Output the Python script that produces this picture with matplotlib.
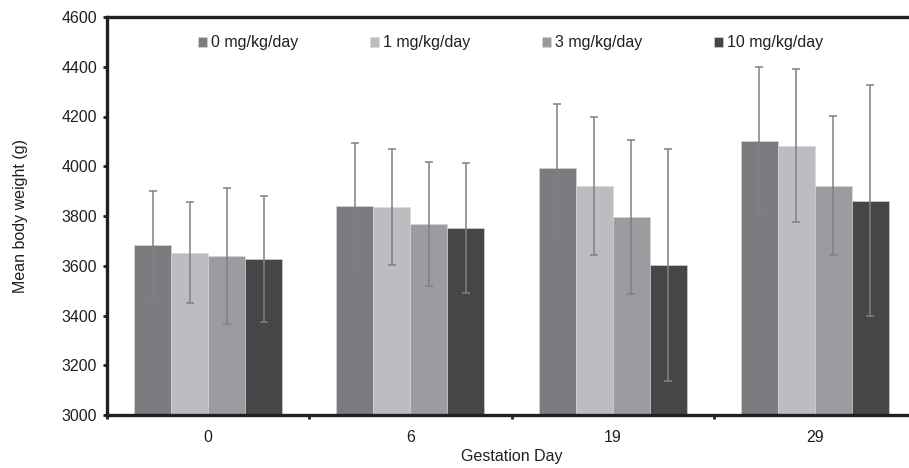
import numpy as np
import matplotlib.pyplot as plt

plt.rcParams['font.family'] = ['Liberation Sans', 'DejaVu Sans']

days = ['0', '6', '19', '29']
doses = ['0 mg/kg/day', '1 mg/kg/day', '3 mg/kg/day', '10 mg/kg/day']
colors = ['#7b7c80', '#bcbdc1', '#9b9c9f', '#454648']

# mean body weight per dose group (rows) and gestation day (columns)
means = [
    [3685, 3839, 3991, 4102],
    [3653, 3836, 3921, 4083],
    [3639, 3768, 3797, 3922],
    [3628, 3752, 3604, 3862],
]
sds = [
    [216, 255, 261, 296],
    [203, 232, 278, 309],
    [274, 250, 309, 279],
    [254, 261, 467, 464],
]

ink = '#231f20'
fs = 11.5

fig = plt.figure(figsize=(9.09, 4.68), dpi=100)
ax = fig.add_axes([107 / 909, 53 / 468, 809 / 909, 398 / 468])

x = np.arange(len(days))
w = 0.183
for i in range(len(doses)):
    pos = x + (i - 1.5) * w
    ax.bar(pos, np.array(means[i]) - 3000, w, bottom=3000, color=colors[i],
           edgecolor='#d8d8d8', linewidth=0.4, label=doses[i], zorder=2)
    ax.errorbar(pos, means[i], yerr=sds[i], fmt='none', ecolor='#808080',
                elinewidth=1.1, capsize=3.2, capthick=1.1, zorder=3)

ax.set_xlim(-0.5, 3.5)
ax.set_ylim(3000, 4600)
ax.set_yticks(np.arange(3000, 4601, 200))
ax.set_xticks(x)
ax.set_xticklabels(days)
ax.set_xticks([-0.5, 0.5, 1.5, 2.5], minor=True)
ax.tick_params(axis='x', which='major', length=0, pad=11, labelsize=fs, colors=ink)
ax.tick_params(axis='x', which='minor', length=3, width=2, color=ink)
ax.tick_params(axis='y', length=3, width=2, color=ink, labelsize=fs,
               labelcolor=ink, pad=4)

for s in ['left', 'top', 'bottom']:
    ax.spines[s].set_linewidth(2.4)
    ax.spines[s].set_color(ink)
ax.spines['right'].set_visible(False)

ax.set_ylabel('Mean body weight (g)', fontsize=fs, color=ink, labelpad=24)
ax.set_xlabel('Gestation Day', fontsize=fs, color=ink, labelpad=3)

ax.legend(loc='center left', bbox_to_anchor=(198 / 909, 1 - 43 / 468),
          bbox_transform=fig.transFigure, ncol=4, frameon=False,
          fontsize=fs, handlelength=0.56, handleheight=0.56,
          handletextpad=0.25, columnspacing=4.5, borderpad=0, borderaxespad=0,
          labelcolor=ink)

fig.savefig('out.png', dpi=100, facecolor='white')
